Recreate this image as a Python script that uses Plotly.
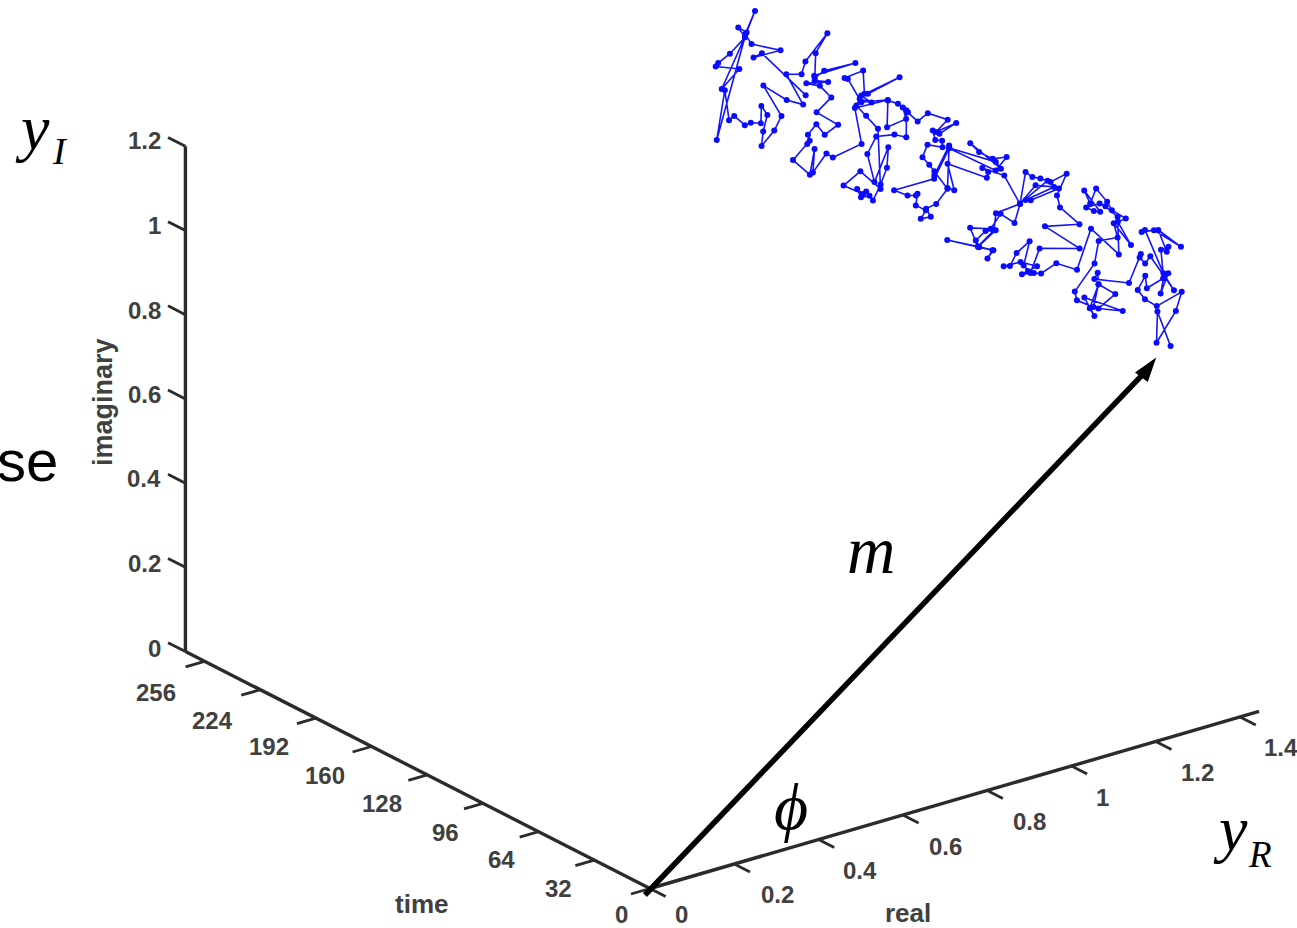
import plotly.graph_objects as go

time_samples = [
    0,1,2,3,4,5,6,7,8,9,10,11,12,13,14,15,16,17,18,19,
    20,21,22,23,24,25,26,27,28,29,30,31,32,33,34,35,36,37,38,39,
    40,41,42,43,44,45,46,47,48,49,50,51,52,53,54,55,56,57,58,59,
    60,61,62,63,64,65,66,67,68,69,70,71,72,73,74,75,76,77,78,79,
    80,81,82,83,84,85,86,87,88,89,90,91,92,93,94,95,96,97,98,99,
    100,101,102,103,104,105,106,107,108,109,110,111,112,113,114,115,116,117,118,119,
    120,121,122,123,124,125,126,127,128,129,130,131,132,133,134,135,136,137,138,139,
    140,141,142,143,144,145,146,147,148,149,150,151,152,153,154,155,156,157,158,159,
    160,161,162,163,164,165,166,167,168,169,170,171,172,173,174,175,176,177,178,179,
    180,181,182,183,184,185,186,187,188,189,190,191,192,193,194,195,196,197,198,199,
    200,201,202,203,204,205,206,207,208,209,210,211,212,213,214,215,216,217,218,219,
    220,221,222,223,224,225,226,227,228,229,230,231,232,233,234,235,236,237,238,239,
    240,241,242,243,244,245,246,247,248,249,250,251,252,253,254,255]
real_values = [
    1.235,1.208,1.210,1.260,1.278,1.223,1.199,1.186,1.208,1.216,1.259,1.275,1.261,1.272,1.270,1.292,1.292,1.276,1.334,1.274,
    1.249,1.261,1.309,1.338,1.286,1.278,1.269,1.276,1.252,1.174,1.186,1.192,1.236,1.200,1.262,1.175,1.203,1.196,1.221,1.213,
    1.178,1.177,1.228,1.242,1.291,1.286,1.331,1.304,1.327,1.298,1.291,1.269,1.259,1.249,1.291,1.280,1.266,1.302,1.320,1.353,
    1.360,1.298,1.269,1.224,1.192,1.179,1.155,1.173,1.199,1.164,1.128,1.147,1.167,1.202,1.192,1.212,1.238,1.337,1.259,1.345,
    1.303,1.300,1.327,1.293,1.273,1.258,1.246,1.237,1.278,1.326,1.263,1.279,1.350,1.327,1.266,1.257,1.228,1.209,1.164,1.187,
    1.233,1.213,1.194,1.206,1.244,1.234,1.250,1.222,1.151,1.228,1.270,1.279,1.340,1.307,1.259,1.277,1.278,1.189,1.209,1.197,
    1.205,1.174,1.213,1.328,1.358,1.329,1.301,1.284,1.361,1.353,1.247,1.215,1.124,1.160,1.184,1.192,1.192,1.220,1.212,1.240,
    1.233,1.261,1.292,1.265,1.257,1.245,1.261,1.301,1.304,1.292,1.290,1.310,1.354,1.310,1.342,1.299,1.279,1.260,1.252,1.264,
    1.223,1.229,1.257,1.281,1.285,1.261,1.222,1.205,1.226,1.263,1.264,1.253,1.239,1.227,1.239,1.223,1.218,1.236,1.194,1.238,
    1.290,1.288,1.264,1.245,1.257,1.289,1.269,1.364,1.293,1.289,1.290,1.250,1.262,1.298,1.365,1.291,1.311,1.247,1.236,1.208,
    1.216,1.209,1.173,1.211,1.221,1.221,1.245,1.269,1.305,1.258,1.297,1.274,1.246,1.302,1.274,1.277,1.379,1.309,1.291,1.297,
    1.329,1.281,1.276,1.244,1.288,1.253,1.202,1.249,1.236,1.210,1.218,1.232,1.222,1.225,1.205,1.195,1.174,1.166,1.160,1.145,
    1.216,1.165,1.211,1.159,1.169,1.201,1.241,1.229,1.253,1.277,1.258,1.277,1.350,1.290,1.314,1.422]
imag_values = [
    0.929,1.017,0.940,0.999,1.037,1.017,1.038,1.062,1.087,1.053,1.062,1.067,1.021,1.052,1.118,1.117,1.103,1.157,1.098,1.153,
    1.154,1.153,1.034,0.983,1.077,1.060,1.075,1.079,1.015,1.045,1.054,1.023,0.985,0.959,0.933,0.988,0.934,0.952,1.000,0.946,
    0.970,0.989,1.039,1.086,1.078,1.111,1.044,1.105,1.104,1.130,1.150,1.186,1.151,1.183,1.118,1.121,1.131,1.128,1.114,1.077,
    0.984,1.061,0.970,0.996,0.979,0.982,0.984,0.984,0.986,1.004,1.002,0.995,1.018,1.034,0.977,0.951,1.000,0.969,1.042,1.020,
    1.070,1.097,1.139,1.127,1.139,1.145,1.158,1.083,1.113,1.093,1.078,1.071,1.076,1.099,1.060,1.015,1.043,1.011,1.024,0.970,
    0.994,0.996,0.977,0.956,0.935,0.916,0.929,0.942,0.978,0.938,0.962,0.998,1.000,1.075,1.105,1.088,1.072,1.129,1.058,1.065,
    1.161,1.097,1.148,1.060,1.081,1.083,1.105,1.129,1.044,1.060,1.122,1.056,1.053,1.028,1.019,1.019,0.989,0.967,0.947,0.942,
    0.961,0.962,0.987,1.034,1.050,1.069,1.092,1.072,1.085,1.088,1.109,1.093,1.104,1.093,1.111,1.137,1.121,1.146,1.158,1.125,
    1.115,1.175,1.157,1.132,1.065,1.076,1.081,1.042,0.967,1.037,0.986,0.947,0.911,0.934,0.918,0.917,0.936,0.917,0.947,0.966,
    0.907,1.048,1.084,1.112,1.122,1.102,1.122,1.136,1.115,1.114,1.167,1.159,1.151,1.083,1.067,1.067,0.974,0.958,0.969,0.930,
    0.981,0.920,0.963,0.988,0.991,1.003,1.019,0.985,0.996,1.037,1.059,1.091,1.103,1.088,1.097,1.106,1.104,1.104,1.090,1.145,
    1.181,1.126,1.095,1.102,1.015,1.034,1.081,0.993,0.960,0.929,0.959,0.992,1.014,0.970,0.975,0.970,0.996,0.986,1.057,0.941,
    1.163,1.052,1.084,1.103,1.106,1.117,1.142,1.167,1.146,1.188,1.136,1.105,1.067,1.065,1.066,0.933]

time_ticks = [0,32,64,96,128,160,192,224,256]
real_ticks = [0,0.2,0.4,0.6,0.8,1,1.2,1.4]
imag_ticks = [0,0.2,0.4,0.6,0.8,1,1.2]
time_labels = ['0','32','64','96','128','160','192','224','256']
real_labels = ['0','0.2','0.4','0.6','0.8','1','1.2','1.4']
imag_labels = ['0','0.2','0.4','0.6','0.8','1','1.2']
arrow_time = [0,0,0]
arrow_real = [-0.012,1.177,1.201]
arrow_imag = [-0.012,0.887,0.912]
TIME_END = 267
REAL_END = 1.445
IMAG_END = 1.2

def X(t,r,i): return 650+421.5*r-1.74*t
def Y(t,r,i): return 888.5-122.5*r-0.8875*t-421*i

fig = go.Figure()
AX = '#2b2b2b'
def seg(p,q,w=3.4):
    fig.add_trace(go.Scatter(x=[X(*p),X(*q)],y=[Y(*p),Y(*q)],mode='lines',line=dict(color=AX,width=w),hoverinfo='skip',showlegend=False))
seg((TIME_END,0,0),(0,0,0)); seg((0,0,0),(0,REAL_END,0)); seg((TIME_END,0,0),(TIME_END,0,IMAG_END))
for t in time_ticks: seg((t,0,0),(t,-0.045,0),2.8)
for r in real_ticks: seg((0,r,0),(-9,r,0),2.8)
for i in imag_ticks: seg((TIME_END,0,i),(TIME_END+10,0,i),2.8)

fig.add_trace(go.Scatter(
    x=[X(t,r,i) for t,r,i in zip(time_samples,real_values,imag_values)],
    y=[Y(t,r,i) for t,r,i in zip(time_samples,real_values,imag_values)],
    mode='lines+markers',line=dict(color='#1414ff',width=1.6),marker=dict(color='#0a0aff',size=6),hoverinfo='skip',showlegend=False,name='response'))

ax_px=[X(t,r,i) for t,r,i in zip(arrow_time,arrow_real,arrow_imag)]
ay_px=[Y(t,r,i) for t,r,i in zip(arrow_time,arrow_real,arrow_imag)]
fig.add_trace(go.Scatter(x=ax_px[:2],y=ay_px[:2],mode='lines',line=dict(color='black',width=5.5),hoverinfo='skip',showlegend=False,name='m'))
fig.add_trace(go.Scatter(x=ax_px[1:],y=ay_px[1:],mode='markers',
    marker=dict(symbol='arrow',angleref='previous',size=[0,26],color='black',opacity=1,line=dict(width=0)),
    hoverinfo='skip',showlegend=False,name='m head'))

def label(x,y,s,size=24,color='#404040',fam='Liberation Sans',**k):
    fig.add_annotation(x=x,y=y,text=s,showarrow=False,font=dict(family=fam,size=size,color=color),xanchor='center',yanchor='middle',**k)
imag_pos=[(154,648),(144,563),(144,478),(144,394),(144,310),(154,225),(144,140)]
time_pos=[(621,914),(558,888),(501,859),(445,832),(382,803),(325,775),(269,746),(212,720),(156,692)]
real_pos=[(681,914),(777,894),(860,870),(945,846),(1029,821),(1102,797),(1197,772),(1281,747)]
for t,(x,y) in zip(imag_labels,imag_pos): label(x,y,'<b>%s</b>'%t)
for t,(x,y) in zip(time_labels,time_pos): label(x,y,'<b>%s</b>'%t)
for t,(x,y) in zip(real_labels,real_pos): label(x,y,'<b>%s</b>'%t)
label(103,402,'<b>imaginary</b>',27,textangle=-90)
label(421,904,'<b>time</b>',26)
label(908,913,'<b>real</b>',26)
S='Liberation Serif'
label(32,127,'<i>y</i>',64,'black',S)
label(60,151,'<i>I</i>',38,'black',S)
label(1230,828,'<i>y</i>',64,'black',S)
label(1260,854,'<i>R</i>',37,'black',S)
label(871,550,'<i>m</i>',67,'black',S)
label(791,806,'<i>\u03d5</i>',66,'black',S)
label(27,460,'se',58,'black')

fig.update_layout(width=1297,height=928,margin=dict(l=0,r=0,t=0,b=0),paper_bgcolor='white',plot_bgcolor='white',
  xaxis=dict(range=[0,1297],visible=False),yaxis=dict(range=[928,0],visible=False),showlegend=False)
fig.write_html("out.html",config={'displayModeBar':False},post_script="document.body.style.margin='0';document.body.style.overflow='hidden';")
